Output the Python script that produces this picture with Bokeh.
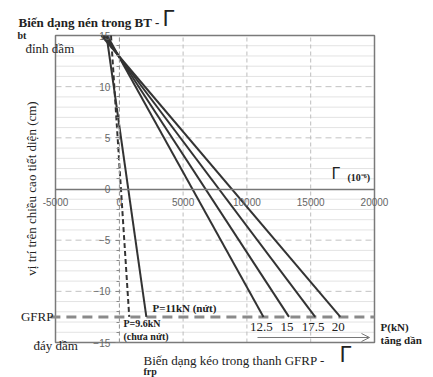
from bokeh.plotting import figure
from bokeh.models import (ColumnDataSource, FixedTicker, Label, Arrow,
                          OpenHead, NumeralTickFormatter)
from bokeh.core.properties import value
from bokeh.embed import file_html
from bokeh.resources import INLINE
import math

# ---- data ----
loads = [9.6, 11, 12.5, 15, 17.5, 20]              # kN
load_labels = ["12.5", "15", "17.5", "20"]
top_strain = [-650, -1000, -950, -1100, -1250, -1400]     # at y = 15 cm (10^-6)
gfrp_strain = [780, 2120, 11300, 13300, 15350, 17320]     # at y = -12.5 cm (10^-6)
section_y = [15.0, -12.5]                                 # top of beam, GFRP level
x_ticks = [-5000, 0, 5000, 10000, 15000, 20000]
y_ticks = [-15, -10, -5, 0, 5, 10, 15]
y_minor = list(range(-15, 16))

SERIF = "Liberation Serif"
W, H = 433, 377
FL, FR, FT, FB = 55, 374, 35, 342   # chart box in pixels
X0, X1 = x_ticks[0], x_ticks[-1]
Y0, Y1 = y_ticks[0], y_ticks[-1]
sx = (X1 - X0) / (FR - FL)
sy = (Y1 - Y0) / (FB - FT)

p = figure(width=W, height=H, output_backend="svg", toolbar_location=None,
           x_range=(X0 - FL * sx, X1 + (W - FR) * sx),
           y_range=(Y0 - (H - FB) * sy, Y1 + FT * sy),
           min_border=0)
p.background_fill_color = "white"
p.border_fill_color = "white"
p.outline_line_color = None
p.xgrid.visible = False
p.ygrid.visible = False

# grid lines inside the box
minor = [v for v in y_minor if v % 5 != 0]
p.segment(x0=[X0] * len(minor), x1=[X1] * len(minor), y0=minor, y1=minor,
          line_color="#e3e3e3", line_width=1)
hmaj = [v for v in y_ticks if v not in (Y0, Y1, 0)]
p.segment(x0=[X0] * len(hmaj), x1=[X1] * len(hmaj), y0=hmaj, y1=hmaj,
          line_color="#c2c2c2", line_width=1, line_dash="6 4")
vmaj = [v for v in x_ticks if v not in (X0, X1)]
p.segment(x0=vmaj, x1=vmaj, y0=[Y0] * len(vmaj), y1=[Y1] * len(vmaj),
          line_color="#bdbdbd", line_width=1, line_dash="4 3")
p.quad(left=[X0], right=[X1], bottom=[Y0], top=[Y1], fill_color=None,
       line_color="#7a7a7a", line_width=1.5)

# axes crossing at origin
for ax in (p.xaxis, p.yaxis):
    ax.fixed_location = 0
    ax.major_label_text_font = "Liberation Sans"
    ax.major_label_text_font_size = "10px"
    ax.major_label_text_color = "#666666"
    ax.major_tick_line_color = "#888888"
    ax.minor_tick_line_color = "#888888"

p.xaxis.bounds = (X0, X1)
p.xaxis.ticker = FixedTicker(ticks=x_ticks)
p.xaxis.formatter = NumeralTickFormatter(format="0")
p.xaxis.axis_line_color = "#777777"
p.xaxis.axis_line_width = 1.5
p.xaxis.major_tick_in = 0
p.xaxis.major_tick_out = 0
p.xaxis.minor_tick_out = 0
p.xaxis.major_label_standoff = 9

p.yaxis.bounds = (Y0, Y1)
p.yaxis.ticker = FixedTicker(ticks=y_ticks, minor_ticks=y_minor)
p.yaxis.axis_line_color = "#999999"
p.yaxis.axis_line_dash = "4 3"
p.yaxis.major_tick_in = 0
p.yaxis.major_tick_out = 4
p.yaxis.minor_tick_in = 0
p.yaxis.minor_tick_out = 3
p.yaxis.major_label_standoff = 5

# GFRP level
p.segment(x0=[X0 - 400], x1=[X1], y0=[section_y[1]], y1=[section_y[1]],
          line_color="#8a8a8a", line_width=3, line_dash="10 6")

# strain profiles
for i, P in enumerate(loads):
    src = ColumnDataSource(dict(x=[top_strain[i], gfrp_strain[i]], y=section_y))
    if i == 0:
        p.line("x", "y", source=src, line_color="#333333", line_width=2, line_dash="5 3")
    else:
        p.line("x", "y", source=src, line_color="#333333", line_width=2)

# load labels at GFRP end
lab_src = ColumnDataSource(dict(x=gfrp_strain[2:], y=[section_y[1]] * 4, t=load_labels))
p.text("x", "y", text="t", source=lab_src, text_font=value(SERIF),
       text_font_size="13px", text_color="#222222", text_align="center",
       text_baseline="middle", y_offset=10, x_offset=-2)

# helpers: pixel -> data coords
def dx(px):
    return X0 + (px - FL) * sx

def dy(py):
    return Y1 - (py - FT) * sy

def lab(text, px, py, size="13px", bold=False, align="left", font=SERIF,
        angle=0, color="#222222"):
    p.add_layout(Label(x=dx(px), y=dy(py), text=text, text_font=font,
                       text_font_size=size, text_align=align,
                       text_baseline="middle", angle=angle,
                       text_font_style="bold" if bold else "normal",
                       text_color=color))

lab("Biến dạng nén trong BT -", 18, 22, "13px", True)
lab("Γ", 162, 18, "21px", False, font="DejaVu Sans")
lab("bt", 17, 35, "10px", True)
lab("đỉnh dầm", 25, 48, "13px")
lab("vị trí trên chiều cao tiết diện (cm)", 31, 188, "13px", align="center",
    angle=math.pi / 2)
lab("GFRP", 53, 316, "13px", align="right")
lab("đáy dầm", 33, 345, "13px")
lab("P=11kN (nứt)", 152, 307, "11px", True)
lab("P=9.6kN", 123, 323, "10px", True)
lab("(chưa nứt)", 123, 336, "10px", True)
lab("P(kN)", 380, 326, "11px", True)
lab("tăng dần", 380, 339, "11px", True)
lab("Γ", 331, 173, "15px", False, font="DejaVu Sans")
lab("(10⁻⁶)", 347, 177, "10px", True)
lab("Biến dạng kéo trong thanh GFRP -", 143, 360, "13px")
lab("Γ", 339, 354, "21px", False, font="DejaVu Sans")
lab("frp", 143, 371, "10px", True)

p.add_layout(Arrow(end=OpenHead(size=8, line_color="#777777", line_width=1),
                   x_start=dx(257), y_start=dy(337), x_end=dx(369), y_end=dy(337),
                   line_color="#777777", line_width=1))

open("out.html", "w").write(file_html(p, INLINE))
